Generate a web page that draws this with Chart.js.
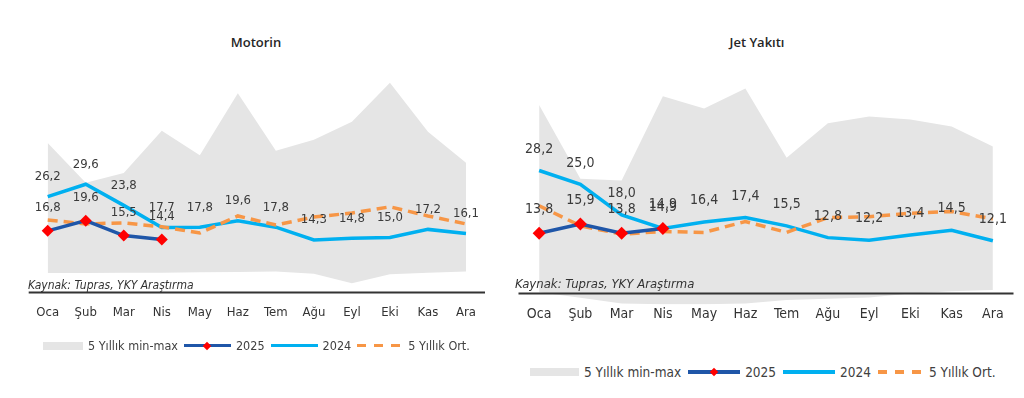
<!DOCTYPE html>
<html lang="tr">
<head>
<meta charset="utf-8">
<title>Motorin ve Jet Yakıtı marjları</title>
<script src="https://cdn.jsdelivr.net/npm/chart.js@4.4.1/dist/chart.umd.min.js"></script>
<style>
  html, body { margin: 0; padding: 0; background: #fff; }
  body {
    width: 1024px; height: 398px; position: relative; overflow: hidden;
    font-family: 'DejaVu Sans Condensed', 'DejaVu Sans', sans-serif; color: #404040;
  }
  canvas { position: absolute; top: 0; }
  .title {
    position: absolute; top: 33px; transform: translateX(-50%);
    font-family: 'Open Sans', sans-serif; font-weight: 600; font-size: 13px; color: #262626;
  }
  .source { position: absolute; font-style: italic; color: #333; white-space: nowrap; }
  .legend { position: absolute; display: flex; align-items: center; white-space: nowrap; }
  .legend .box { background: #e5e5e5; }
  .legend .sw { position: relative; }
  .sw-2025 { background: #1f56a8; }
  .sw-2025::after {
    content: ''; position: absolute; left: 50%; top: 50%; width: 6px; height: 6px;
    background: #ff0000; transform: translate(-50%, -50%) rotate(45deg);
  }
  .sw-2024 { background: #00b0f0; }
  .sw-avg { background: repeating-linear-gradient(90deg, #f79646 0 9px, transparent 9px 17px); }
</style>
</head>
<body>

<div class="title" style="left:256px">Motorin</div>
<div class="title" style="left:757px">Jet Yakıtı</div>

<canvas id="motorin" width="512" height="343" style="left:0"></canvas>
<canvas id="jet" width="512" height="330" style="left:512px"></canvas>

<div class="source" style="left:28px; top:278px; font-size:12px">Kaynak: Tupras, YKY Araştırma</div>
<div class="source" style="left:515px; top:276px; font-size:13px">Kaynak: Tupras, YKY Araştırma</div>

<div class="legend" id="legend-motorin" style="left:43px; top:338px; font-size:12.5px"></div>
<div class="legend" id="legend-jet" style="left:530px; top:364px; font-size:13.5px"></div>

<script>
'use strict';

// ---- Data ----

const months = ['Oca', 'Şub', 'Mar', 'Nis', 'May', 'Haz', 'Tem', 'Ağu', 'Eyl', 'Eki', 'Kas', 'Ara'];

// Motorin ($/varil)
const motorin2025 = [16.8, 19.6, 15.5, 14.4];
const motorin2024 = [26.2, 29.6, 23.8, 17.7, 17.8, 19.6, 17.8, 14.3, 14.8, 15.0, 17.2, 16.1];
const motorinAvg  = [19.8, 18.7, 19.0, 17.9, 16.2, 20.9, 18.4, 20.6, 21.7, 23.4, 20.9, 18.7];
const motorinMax  = [40.9, 30.0, 32.7, 44.3, 37.6, 54.6, 38.8, 41.8, 46.8, 57.5, 44.0, 35.5];
const motorinMin  = [5.2, 5.2, 5.3, 5.3, 5.4, 5.5, 5.6, 5.0, 2.4, 4.9, 5.3, 5.6];

// Jet Yakıtı ($/varil)
const jet2025 = [13.8, 15.9, 13.8, 14.9];
const jet2024 = [28.2, 25.0, 18.0, 14.9, 16.4, 17.4, 15.5, 12.8, 12.2, 13.4, 14.5, 12.1];
const jetAvg  = [20.1, 15.5, 13.6, 14.2, 14.0, 16.5, 14.0, 17.4, 17.6, 18.4, 18.8, 17.1];
const jetMax  = [43.2, 26.3, 25.9, 45.2, 42.4, 47.0, 31.1, 39.0, 40.6, 39.9, 38.3, 33.7];
const jetMin  = [0.3, -1.0, -2.3, -2.5, -2.5, -2.3, -1.5, -1.2, -0.9, 0.0, 0.5, 0.8];

const legendItems = ['5 Yıllık min-max', '2025', '2024', '5 Yıllık Ort.'];

// ---- Plugins ----

// dark rule at zero, under the source note
const zeroRule = {
  id: 'zeroRule',
  afterDatasetsDraw(chart) {
    const { ctx, chartArea, scales } = chart;
    const y = Math.round(scales.y.getPixelForValue(0)) + 0.5;
    ctx.save();
    ctx.strokeStyle = '#333';
    ctx.lineWidth = 2;
    ctx.beginPath();
    ctx.moveTo(chartArea.left, y);
    ctx.lineTo(chartArea.right, y);
    ctx.stroke();
    ctx.restore();
  },
};

// value labels above the 2024 / 2025 points
const valueLabels = {
  id: 'valueLabels',
  afterDatasetsDraw(chart, args, opts) {
    const ctx = chart.ctx;
    ctx.save();
    ctx.font = opts.font;
    ctx.fillStyle = '#3a3a3a';
    ctx.textAlign = 'center';
    ctx.textBaseline = 'middle';
    chart.data.datasets.forEach((ds, i) => {
      if (!ds.labelLift) return;
      const meta = chart.getDatasetMeta(i);
      meta.data.forEach((pt, j) => {
        const v = ds.data[j];
        if (v == null) return;
        ctx.fillText(v.toFixed(1).replace('.', ','), pt.x, pt.y - ds.labelLift);
      });
    });
    ctx.restore();
  },
};

// ---- Charts ----

function buildChart(id, s) {
  const ctx = document.getElementById(id).getContext('2d');
  return new Chart(ctx, {
    type: 'line',
    data: {
      labels: months,
      datasets: [
        {
          label: '2025', data: s.y2025, order: 0,
          borderColor: '#1f56a8', borderWidth: 3.5,
          pointStyle: 'rectRot', pointRadius: s.marker,
          pointBackgroundColor: '#ff0000', pointBorderColor: '#ff0000', pointBorderWidth: 0,
          labelLift: s.lift2025,
        },
        {
          label: '5 Yıllık Ort.', data: s.avg, order: 1,
          borderColor: '#f79646', borderWidth: 3.5, borderDash: [10, 6], pointRadius: 0,
        },
        {
          label: '2024', data: s.y2024, order: 2,
          borderColor: '#00b0f0', borderWidth: 3.5, pointRadius: 0,
          labelLift: s.lift2024,
        },
        {
          label: '5 Yıllık max', data: s.max, order: 3,
          borderWidth: 0, pointRadius: 0, backgroundColor: '#e5e5e5', fill: { target: 4 },
        },
        {
          label: '5 Yıllık min', data: s.min, order: 4,
          borderWidth: 0, pointRadius: 0, fill: false,
        },
      ],
    },
    options: {
      responsive: false,
      animation: false,
      layout: { padding: s.padding },
      elements: { line: { tension: 0 } },
      plugins: {
        legend: { display: false },
        tooltip: { enabled: false },
        valueLabels: { font: s.labelFont },
      },
      scales: {
        x: {
          offset: true,
          grid: { display: false, drawTicks: false },
          border: { display: false },
          ticks: {
            color: '#333', font: s.tickFont, padding: s.tickPad,
            maxRotation: 0, autoSkip: false,
          },
        },
        y: { display: false, min: s.yMin, max: s.yMax },
      },
    },
    plugins: [zeroRule, valueLabels],
  });
}

buildChart('motorin', {
  y2025: motorin2025, y2024: motorin2024, avg: motorinAvg, max: motorinMax, min: motorinMin,
  yMin: 0, yMax: 60, marker: 6, lift2025: 23, lift2024: 20,
  padding: { left: 28.7, right: 27, top: 73.6, bottom: 10 },
  tickFont: { family: 'DejaVu Sans Condensed', size: 13 }, tickPad: 12.7,
  labelFont: "13px 'DejaVu Sans Condensed'",
});

buildChart('jet', {
  y2025: jet2025, y2024: jet2024, avg: jetAvg, max: jetMax, min: jetMin,
  yMin: -2.6, yMax: 50, marker: 6.5, lift2025: 24, lift2024: 21.5,
  padding: { left: 3, right: 10.5, top: 75.4, bottom: 6 },
  tickFont: { family: 'DejaVu Sans Condensed', size: 14 }, tickPad: 1.2,
  labelFont: "14px 'DejaVu Sans Condensed'",
});

// ---- Legends ----

function buildLegend(id, sw, gaps) {
  const el = document.getElementById(id);
  const classes = ['box', 'sw sw-2025', 'sw sw-2024', 'sw sw-avg'];
  legendItems.forEach((text, i) => {
    const mark = document.createElement('span');
    mark.className = classes[i];
    mark.style.width = sw[i] + 'px';
    mark.style.height = (i === 0 ? 8 : 3.5) + 'px';
    mark.style.marginRight = gaps[0] + 'px';
    el.appendChild(mark);
    const label = document.createElement('span');
    label.textContent = text;
    label.style.marginRight = gaps[1] + 'px';
    el.appendChild(label);
  });
}

buildLegend('legend-motorin', [40, 47, 47, 46], [5, 6]);
buildLegend('legend-jet', [49, 52, 52, 46], [5, 7]);
</script>
</body>
</html>
